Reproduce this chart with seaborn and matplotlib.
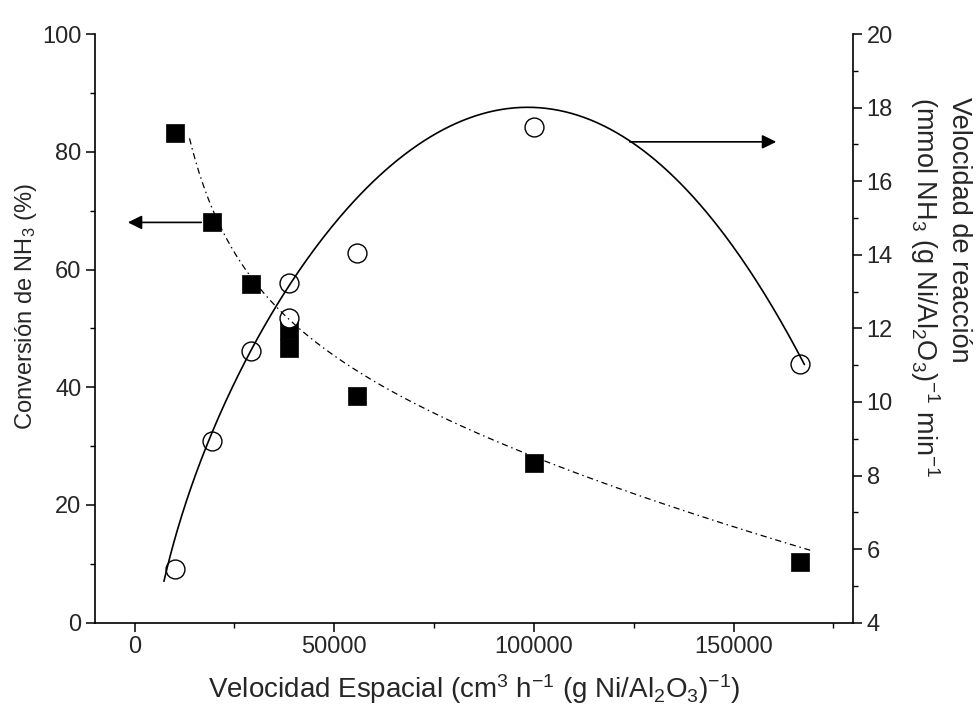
import numpy as np
import pandas as pd
import matplotlib
matplotlib.use("Agg")
import matplotlib.pyplot as plt
import seaborn as sns
from matplotlib.ticker import MultipleLocator

space_velocity = [10000, 19400, 29200, 38700, 38700, 55700, 100000, 166700]
conversion = [83.2, 68.0, 57.5, 49.7, 46.7, 38.5, 27.2, 10.25]
reaction_rate = [5.45, 8.95, 11.39, 13.24, 12.27, 14.06, 17.46, 11.02]

# ---- trend lines as drawn in the reference ----
rate_trend_x = [7350, 10000, 13350, 17100, 19600, 29200, 38700, 50850, 66700,
                86700, 98350, 124200, 140800, 160800, 167750]
rate_trend_y = [5.16, 6.12, 7.34, 8.69, 9.35, 11.52, 13.2, 14.67, 16.4,
                17.8, 18.07, 17.07, 14.99, 12.22, 11.32]
conv_trend_x = [13750, 20400, 21700, 28350, 34600, 41700, 50000, 61700, 65850,
                86700, 100000, 128350, 169200]
conv_trend_y = [81.7, 70.0, 67.3, 59.35, 53.65, 49.2, 45.8, 39.8, 38.4,
                32.45, 28.7, 21.4, 11.9]

x_ticks = [0, 50000, 100000, 150000]
left_ticks = [0, 20, 40, 60, 80, 100]
right_ticks = [4, 6, 8, 10, 12, 14, 16, 18, 20]

df = pd.DataFrame({"sv": space_velocity, "conv": conversion, "rate": reaction_rate})

sns.set_style("ticks")
plt.rcParams["font.family"] = ["Liberation Sans", "DejaVu Sans"]
plt.rcParams["mathtext.fontset"] = "custom"
plt.rcParams["mathtext.rm"] = "Liberation Sans"
plt.rcParams["mathtext.it"] = "Liberation Sans"
plt.rcParams["mathtext.default"] = "regular"

fig = plt.figure(figsize=(9.77, 7.09), dpi=100)
ax1 = fig.add_axes([0.0969, 0.1217, 0.8734 - 0.0969, 0.952 - 0.1217])
ax2 = ax1.twinx()

ax1.set_xlim(-10000, 180000)
ax1.set_ylim(0, 100)
ax2.set_ylim(4, 20)


def smooth_basis(x):
    u = np.asarray(x, float) / 1e5
    return np.column_stack([np.ones_like(u), u, u ** 2, u ** 3, np.log(u)])


# smooth the traced trend lines (the apex is weighted more so the top is kept)
rx = np.asarray(rate_trend_x, float)
ry = np.asarray(rate_trend_y, float)
w = np.where(ry > 17.5, 4.0, 1.0)
rcoef, *_ = np.linalg.lstsq(smooth_basis(rx) * w[:, None], ry * w, rcond=None)
xr = np.linspace(rx.min(), rx.max(), 400)
yr = smooth_basis(xr) @ rcoef

cx = np.asarray(conv_trend_x, float)
ccoef = np.polyfit(np.log(cx), np.asarray(conv_trend_y, float), 3)
xc = np.linspace(cx.min(), cx.max(), 400)
yc = np.polyval(ccoef, np.log(xc))

# squares: conversion (left axis)
sns.scatterplot(data=df, x="sv", y="conv", marker="s", s=150, color="black",
                edgecolor="black", linewidth=0.5, ax=ax1, zorder=3, legend=False)
# circles: reaction rate (right axis)
sns.scatterplot(data=df, x="sv", y="rate", marker="o", s=185, color="white",
                edgecolor="black", linewidth=1.0, ax=ax2, zorder=3, legend=False)

sns.lineplot(x=xr, y=yr, ax=ax2, color="black", linewidth=1.2, zorder=4,
             sort=False, estimator=None)
ax2.plot(xc, yc, transform=ax1.transData, color="black", linewidth=0.9,
         dashes=(5, 3, 1.2, 3), zorder=4)

# arrows
arrow_style = "-|>,head_length=0.85,head_width=0.42"
ax1.annotate("", xy=(-1700, 68), xytext=(16700, 68),
             arrowprops=dict(arrowstyle=arrow_style, color="black", lw=1.2,
                             shrinkA=0, shrinkB=0, mutation_scale=10))
ax2.annotate("", xy=(160700, 17.07), xytext=(124000, 17.07),
             arrowprops=dict(arrowstyle=arrow_style, color="black", lw=1.2,
                             shrinkA=0, shrinkB=0, mutation_scale=10))

ax1.set_xticks(x_ticks)
ax1.set_yticks(left_ticks)
ax2.set_yticks(right_ticks)
ax1.xaxis.set_minor_locator(MultipleLocator(25000))
ax1.yaxis.set_minor_locator(MultipleLocator(10))
ax2.yaxis.set_minor_locator(MultipleLocator(1))
ax1.set_xlim(-10000, 180000)
ax1.set_ylim(0, 100)
ax2.set_ylim(4, 20)

for ax in (ax1, ax2):
    ax.tick_params(which="major", direction="out", length=6.5, width=1.1,
                   labelsize=17, pad=3, color="black")
    ax.tick_params(which="minor", direction="out", length=3.5, width=1.0,
                   color="black")
    ax.spines["top"].set_visible(False)
    for s in ax.spines.values():
        s.set_linewidth(1.2)
        s.set_color("black")

ax1.spines["right"].set_visible(False)
ax2.spines["left"].set_visible(False)
ax2.spines["bottom"].set_visible(False)

ax1.set_xlabel("Velocidad Espacial (cm$^{3}$ h$^{-1}$ (g Ni/Al$_{2}$O$_{3}$)$^{-1}$)",
               fontsize=20, labelpad=10)
ax1.set_ylabel("Conversión de NH$_{3}$ (%)", fontsize=17)
ax1.yaxis.set_label_coords(-0.073, 0.538)
ax2.set_ylabel("Velocidad de reacción\n(mmol NH$_{3}$ (g Ni/Al$_{2}$O$_{3}$)$^{-1}$ min$^{-1}$",
               fontsize=19.5, rotation=270, linespacing=1.15, multialignment="left")
ax2.yaxis.set_label_coords(1.1565, 0.57)

fig.savefig("out.png", dpi=100)
